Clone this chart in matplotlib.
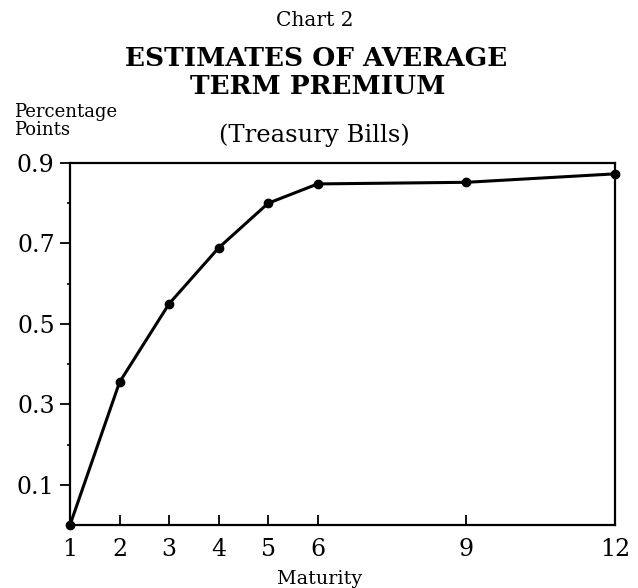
import matplotlib
matplotlib.use("Agg")
import matplotlib.pyplot as plt
from matplotlib.ticker import FixedLocator

maturity = [1, 2, 3, 4, 5, 6, 9, 12]
premium = [0.0, 0.355, 0.55, 0.689, 0.80, 0.848, 0.852, 0.873]
x_ticks = [1, 2, 3, 4, 5, 6, 9, 12]
y_ticks = [0.1, 0.3, 0.5, 0.7, 0.9]
y_minor = [0.2, 0.4, 0.6, 0.8]

plt.rcParams['font.family'] = ['DejaVu Serif']

fig = plt.figure(figsize=(6.38, 5.88), dpi=100)
ax = fig.add_axes([70/638, 1-525/588, 545/638, (525-163)/588])

ax.plot(maturity, premium, color='black', lw=2.2, marker='o', ms=6, clip_on=False, zorder=3)

ax.set_xlim(1, 12)
ax.set_ylim(0, 0.9)
ax.set_xticks(x_ticks)
ax.set_xticklabels([str(v) for v in x_ticks])
ax.set_yticks(y_ticks)
ax.set_yticklabels([f"{v:.1f}" for v in y_ticks])
ax.yaxis.set_minor_locator(FixedLocator(y_minor))

for s in ax.spines.values():
    s.set_linewidth(1.6)

ax.tick_params(axis='x', direction='in', length=7, width=1.3, pad=9, labelsize=17)
ax.tick_params(axis='y', which='major', direction='out', length=7, width=1.3, pad=4, labelsize=17)
ax.tick_params(axis='y', which='minor', direction='out', length=2.5, width=1.2)

fig.text(315/638, 1-20/588, "Chart 2", ha='center', va='center', fontsize=14.5)
fig.text(316/638, 1-58/588, "ESTIMATES OF AVERAGE", ha='center', va='center', fontsize=19, fontweight='bold')
fig.text(318/638, 1-87/588, "TERM PREMIUM", ha='center', va='center', fontsize=19, fontweight='bold')
fig.text(314/638, 1-135/588, "(Treasury Bills)", ha='center', va='center', fontsize=17.5)
fig.text(14/638, 1-121/588, "Percentage\nPoints", ha='left', va='center', fontsize=13, linespacing=0.95)
fig.text(320/638, 1-579/588, "Maturity", ha='center', va='center', fontsize=13.8)

fig.savefig("out.png", dpi=100)
